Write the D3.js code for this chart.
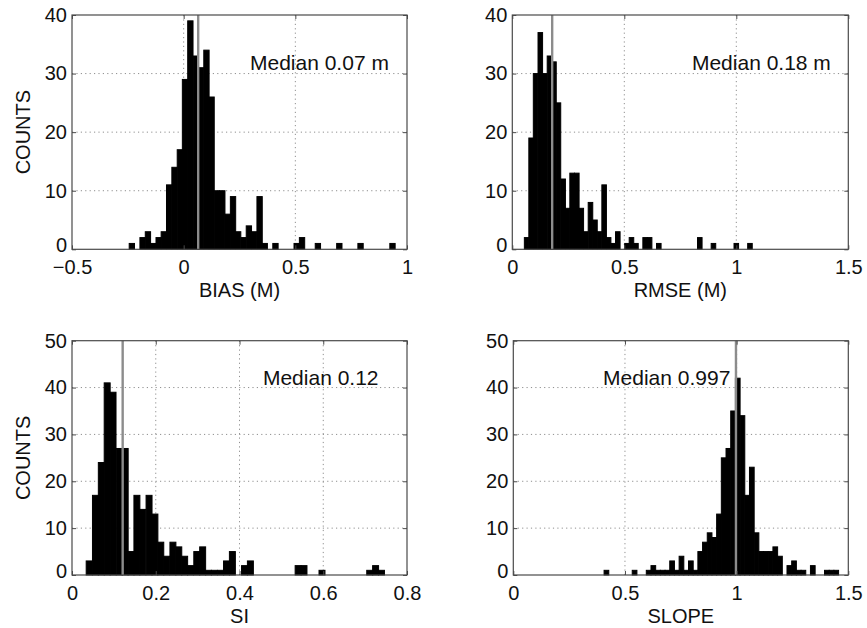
<!DOCTYPE html>
<html><head><meta charset="utf-8">
<script src="https://cdn.jsdelivr.net/npm/d3@7"></script>
<style>
body{margin:0;background:#fff}
text{font-family:"Liberation Sans",Arial,Helvetica,sans-serif;fill:#111}
</style>
</head><body>
<svg id="chart" width="867" height="628"></svg>
<script>
// ---------- data ----------
const biasCenters = [-0.232,-0.208,-0.184,-0.160,-0.136,-0.112,-0.089,-0.065,-0.041,-0.017,
  0.006,0.030,0.054,0.078,0.102,0.125,0.149,0.173,0.197,0.221,
  0.244,0.268,0.292,0.316,0.340,0.363,0.387,0.411,0.435,0.459,
  0.482,0.506,0.530,0.554,0.578,0.601,0.625,0.649,0.673,0.697,
  0.720,0.744,0.768,0.792,0.816,0.839,0.863,0.887,0.911,0.935];
const biasCounts = [1,0,2,3,1,2,3,11,14,17,
  29,39,33,31,34,26,10,10,6,9,
  3,2,4,3,9,1,0,1,0,0,
  0,1,2,0,0,1,0,0,0,1,
  0,0,0,1,0,0,0,0,0,1];

const rmseCenters = [0.064,0.084,0.104,0.125,0.145,0.166,0.186,0.206,0.227,0.247,
  0.267,0.288,0.308,0.328,0.349,0.369,0.389,0.410,0.430,0.450,
  0.471,0.491,0.512,0.532,0.552,0.573,0.593,0.613,0.634,0.654,
  0.674,0.695,0.715,0.735,0.756,0.776,0.796,0.817,0.837,0.857,
  0.878,0.898,0.918,0.939,0.959,0.979,1.000,1.020,1.040,1.061];
const rmseCounts = [2,19,30,37,30,33,32,25,12,7,
  13,13,7,3,8,5,3,11,2,1,
  3,0,1,2,1,0,2,2,0,1,
  0,0,0,0,0,0,0,0,2,0,
  0,1,0,0,0,0,1,0,0,1];

const siCenters = [0.041,0.056,0.070,0.084,0.098,0.113,0.127,0.141,0.155,0.169,
  0.184,0.198,0.212,0.226,0.241,0.255,0.269,0.283,0.298,0.312,
  0.326,0.340,0.355,0.369,0.383,0.397,0.412,0.426,0.440,0.454,
  0.469,0.483,0.497,0.511,0.526,0.540,0.554,0.568,0.582,0.597,
  0.611,0.625,0.639,0.654,0.668,0.682,0.696,0.711,0.725,0.739];
const siCounts = [3,17,24,41,39,27,27,5,17,14,
  17,13,7,4,7,6,4,2,5,6,
  1,1,1,3,5,0,2,3,0,0,
  0,0,0,0,0,2,2,0,0,1,
  0,0,0,0,0,0,0,1,2,1];

const slopeCenters = [0.417,0.438,0.459,0.480,0.501,0.522,0.543,0.564,0.585,0.606,
  0.627,0.648,0.669,0.690,0.711,0.732,0.753,0.774,0.795,0.816,
  0.837,0.858,0.879,0.900,0.921,0.942,0.963,0.984,1.005,1.026,
  1.047,1.068,1.089,1.110,1.131,1.152,1.173,1.194,1.215,1.236,
  1.257,1.278,1.299,1.320,1.341,1.362,1.383,1.404,1.425,1.446];
const slopeCounts = [1,0,0,0,0,0,1,0,0,1,
  2,1,1,1,3,1,4,1,3,1,
  5,7,9,8,13,25,27,35,42,34,
  17,23,9,5,5,5,6,4,0,2,
  3,1,1,0,2,0,0,1,1,1];

const binWidths = [0.0238, 0.02035, 0.01424, 0.021];
const medians = [0.065, 0.178, 0.121, 0.997];
const medianLabels = ["Median 0.07 m", "Median 0.18 m", "Median 0.12", "Median 0.997"];
const xLabels = ["BIAS (M)", "RMSE (M)", "SI", "SLOPE"];
const yLabel = "COUNTS";
const biasTicks = [-0.5, 0, 0.5, 1];
const rmseTicks = [0, 0.5, 1, 1.5];
const siTicks = [0, 0.2, 0.4, 0.6, 0.8];
const slopeTicks = [0, 0.5, 1, 1.5];
const topYTicks = [0, 10, 20, 30, 40];
const bottomYTicks = [0, 10, 20, 30, 40, 50];

// ---------- layout ----------
const panels = [
  {centers: biasCenters, counts: biasCounts, bw: binWidths[0], xd: [-0.5, 1], yd: [0, 40], xt: biasTicks, yt: topYTicks,
   median: medians[0], mlabel: medianLabels[0], xl: xLabels[0], showY: true, box: [72, 15, 407, 249.3], tpos: [0.297, 30.6]},
  {centers: rmseCenters, counts: rmseCounts, bw: binWidths[1], xd: [0, 1.5], yd: [0, 40], xt: rmseTicks, yt: topYTicks,
   median: medians[1], mlabel: medianLabels[1], xl: xLabels[1], showY: false, box: [512.3, 15, 848.3, 249.3], tpos: [0.802, 30.6]},
  {centers: siCenters, counts: siCounts, bw: binWidths[2], xd: [0, 0.8], yd: [0, 50], xt: siTicks, yt: bottomYTicks,
   median: medians[2], mlabel: medianLabels[2], xl: xLabels[2], showY: true, box: [72, 340.7, 407, 575], tpos: [0.456, 40.5]},
  {centers: slopeCenters, counts: slopeCounts, bw: binWidths[3], xd: [0, 1.5], yd: [0, 50], xt: slopeTicks, yt: bottomYTicks,
   median: medians[3], mlabel: medianLabels[3], xl: xLabels[3], showY: false, box: [513.3, 340.7, 848.3, 575], tpos: [0.402, 40.5]}
];

const svg = d3.select("#chart");
svg.append("rect").attr("width", 867).attr("height", 628).attr("fill", "#fff");
const fmt = d3.format("~g");
const frameColor = "#4a4a4a";

panels.forEach(p => {
  const [x0, y0, x1, y1] = p.box;
  const x = d3.scaleLinear().domain(p.xd).range([x0, x1]);
  const y = d3.scaleLinear().domain(p.yd).range([y1, y0]);
  const g = svg.append("g");

  // grid (dotted)
  const grid = g.append("g").attr("stroke", "#8f8f8f").attr("stroke-width", 1).attr("stroke-dasharray", "1.2,3.2");
  p.xt.filter(t => t > p.xd[0] && t < p.xd[1]).forEach(t => {
    grid.append("line").attr("x1", x(t)).attr("x2", x(t)).attr("y1", y0).attr("y2", y1);
  });
  p.yt.filter(t => t > p.yd[0] && t < p.yd[1]).forEach(t => {
    grid.append("line").attr("x1", x0).attr("x2", x1).attr("y1", y(t)).attr("y2", y(t));
  });

  // bars
  const data = p.centers.map((c, i) => ({c, n: p.counts[i]})).filter(d => d.n > 0);
  g.append("g").selectAll("rect").data(data).join("rect")
    .attr("x", d => x(d.c - p.bw / 2))
    .attr("width", d => x(d.c + p.bw / 2) - x(d.c - p.bw / 2))
    .attr("y", d => y(d.n))
    .attr("height", d => y(0) - y(d.n))
    .attr("fill", "#000").attr("stroke", "#000").attr("stroke-width", 1);

  // median line
  g.append("line").attr("x1", x(p.median)).attr("x2", x(p.median))
    .attr("y1", y(p.yd[0])).attr("y2", y(p.yd[1]))
    .attr("stroke", "#8c8c8c").attr("stroke-width", 2.4);

  // median text
  g.append("text").attr("x", x(p.tpos[0])).attr("y", y(p.tpos[1]))
    .attr("font-size", 21).text(p.mlabel);

  // axes (inward ticks)
  const xb = g.append("g").attr("transform", `translate(0,${y1})`)
    .call(d3.axisBottom(x).tickValues(p.xt).tickFormat(fmt).tickSizeInner(-4).tickSizeOuter(0).tickPadding(11));
  const yl = g.append("g").attr("transform", `translate(${x0},0)`)
    .call(d3.axisLeft(y).tickValues(p.yt).tickFormat(fmt).tickSizeInner(-4).tickSizeOuter(0).tickPadding(5));
  const xt = g.append("g").attr("transform", `translate(0,${y0})`)
    .call(d3.axisTop(x).tickValues(p.xt).tickFormat("").tickSizeInner(-4).tickSizeOuter(0));
  const yr = g.append("g").attr("transform", `translate(${x1},0)`)
    .call(d3.axisRight(y).tickValues(p.yt).tickFormat("").tickSizeInner(-4).tickSizeOuter(0));
  [xb, yl, xt, yr].forEach(a => {
    a.select(".domain").remove();
    a.selectAll("line").attr("stroke", frameColor);
    a.selectAll("text").attr("font-size", 20).attr("fill", "#111")
      .attr("font-family", '"Liberation Sans", Arial, Helvetica, sans-serif');
  });
  // the bottom "0" count label sits slightly above the axis line, as in the reference
  yl.selectAll(".tick text").filter(d => d === 0).attr("dy", "0.12em");

  // frame
  g.append("rect").attr("x", x0).attr("y", y0).attr("width", x1 - x0).attr("height", y1 - y0)
    .attr("fill", "none").attr("stroke", frameColor).attr("stroke-width", 1.2);

  // axis labels
  g.append("text").attr("x", (x0 + x1) / 2).attr("y", y1 + 48).attr("text-anchor", "middle")
    .attr("font-size", 20).text(p.xl);
  if (p.showY) {
    g.append("text").attr("transform", `translate(30,${(y0 + y1) / 2}) rotate(-90)`)
      .attr("text-anchor", "middle").attr("font-size", 20).text(yLabel);
  }
});
</script>
</body></html>
